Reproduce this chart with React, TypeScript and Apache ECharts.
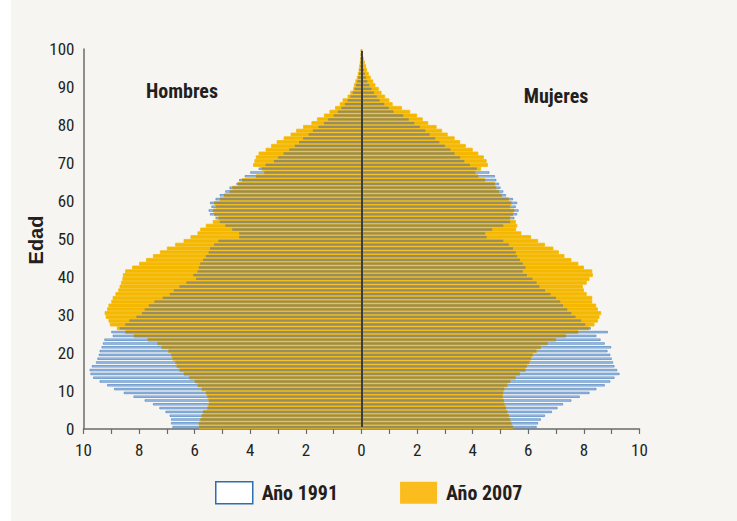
import React, { useEffect, useRef } from 'react';
import * as echarts from 'echarts';

// Ages 0..99 (single-year bands)
const ageLabels: string[] = [
  '0','1','2','3','4','5','6','7','8','9','10','11','12','13','14','15','16','17','18','19',
  '20','21','22','23','24','25','26','27','28','29','30','31','32','33','34','35','36','37','38','39',
  '40','41','42','43','44','45','46','47','48','49','50','51','52','53','54','55','56','57','58','59',
  '60','61','62','63','64','65','66','67','68','69','70','71','72','73','74','75','76','77','78','79',
  '80','81','82','83','84','85','86','87','88','89','90','91','92','93','94','95','96','97','98','99',
];

// Hombres, año 1991 (%)
const men1991: number[] = [
  6.8, 6.85, 6.85, 6.9, 7.05, 7.27, 7.5, 7.8, 8.2, 8.55,
  8.9, 9.15, 9.42, 9.65, 9.75, 9.78, 9.7, 9.55, 9.5, 9.45,
  9.42, 9.35, 9.3, 9.25, 8.95, 9.0, 8.7, 8.5, 8.35, 8.1,
  7.9, 7.8, 7.65, 7.45, 7.15, 6.9, 6.75, 6.55, 6.3, 5.95,
  6.05, 5.9, 5.85, 5.8, 5.7, 5.6, 5.5, 5.45, 5.3, 5.15,
  4.4, 4.4, 4.65, 4.9, 5.1, 5.25, 5.45, 5.5, 5.4, 5.45,
  5.25, 5.1, 4.9, 4.75, 4.5, 4.4, 4.2, 4.0, 3.7, 3.45,
  3.15, 3.0, 2.8, 2.6, 2.4, 2.25, 2.1, 1.9, 1.75, 1.55,
  1.35, 1.2, 1.0, 0.85, 0.72, 0.6, 0.5, 0.4, 0.32, 0.25,
  0.2, 0.15, 0.12, 0.09, 0.07, 0.05, 0.04, 0.03, 0.02, 0.01,
];

// Hombres, año 2007 (%)
const men2007: number[] = [
  5.85, 5.85, 5.8, 5.75, 5.7, 5.55, 5.5, 5.5, 5.55, 5.6,
  5.75, 5.9, 6.0, 6.2, 6.4, 6.55, 6.65, 6.7, 6.8, 6.85,
  6.95, 7.2, 7.35, 7.7, 8.2, 8.5, 8.8, 9.05, 9.1, 9.2,
  9.24, 9.15, 9.1, 9.0, 8.95, 8.85, 8.75, 8.7, 8.65, 8.6,
  8.58, 8.5, 8.25, 8.0, 7.75, 7.5, 7.25, 7.0, 6.7, 6.4,
  6.15, 5.9, 5.8, 5.6, 5.35, 5.15, 5.3, 5.35, 5.25, 5.3,
  5.1, 4.95, 4.75, 4.65, 4.45, 4.3, 3.8, 3.5, 3.6, 3.9,
  3.85, 3.8, 3.7, 3.45, 3.25, 3.05, 2.8, 2.55, 2.35, 2.1,
  1.8, 1.6, 1.35, 1.15, 0.95, 0.78, 0.68, 0.5, 0.4, 0.3,
  0.27, 0.22, 0.17, 0.13, 0.1, 0.08, 0.06, 0.04, 0.03, 0.02,
];

// Mujeres, año 1991 (%)
const women1991: number[] = [
  6.3, 6.35, 6.45, 6.6, 6.85, 7.05, 7.25, 7.55, 7.85, 8.2,
  8.45, 8.75, 8.95, 9.1, 9.28, 9.2, 9.1, 9.05, 9.0, 8.95,
  8.85, 8.98, 8.75, 8.6, 8.45, 8.86, 8.25, 8.05, 7.9, 7.7,
  7.55, 7.4, 7.25, 7.15, 7.0, 6.8, 6.6, 6.4, 6.3, 6.15,
  5.95, 5.8, 5.9, 5.8, 5.7, 5.6, 5.55, 5.45, 5.3, 5.1,
  4.5, 4.45, 4.7, 5.1, 5.35, 5.5, 5.6, 5.65, 5.55, 5.6,
  5.45, 5.2, 5.1, 5.0, 4.95, 4.85, 4.8, 4.6, 4.15, 3.9,
  3.7, 3.55, 3.35, 3.2, 3.0, 2.8, 2.65, 2.45, 2.3, 2.1,
  1.9, 1.7, 1.5, 1.15, 0.98, 0.82, 0.65, 0.55, 0.45, 0.36,
  0.28, 0.21, 0.16, 0.12, 0.09, 0.06, 0.05, 0.03, 0.02, 0.01,
];

// Mujeres, año 2007 (%)
const women2007: number[] = [
  5.45, 5.4, 5.35, 5.3, 5.25, 5.2, 5.15, 5.12, 5.08, 5.1,
  5.14, 5.25, 5.35, 5.55, 5.7, 5.9, 5.95, 6.04, 6.1, 6.16,
  6.3, 6.45, 6.7, 7.0, 7.36, 7.8, 8.2, 8.38, 8.5, 8.56,
  8.62, 8.5, 8.44, 8.3, 8.3, 8.1, 8.0, 7.96, 8.1, 8.2,
  8.32, 8.3, 8.0, 7.8, 7.55, 7.3, 7.1, 6.9, 6.6, 6.35,
  6.1, 5.75, 5.56, 5.6, 5.55, 5.35, 5.45, 5.5, 5.35, 5.4,
  5.3, 5.05, 4.95, 4.85, 4.8, 4.45, 4.2, 4.1, 4.3, 4.55,
  4.5, 4.4, 4.2, 4.0, 3.75, 3.55, 3.35, 3.1, 2.9, 2.7,
  2.4, 2.2, 2.0, 1.75, 1.45, 1.12, 1.0, 0.85, 0.72, 0.62,
  0.5, 0.42, 0.33, 0.26, 0.2, 0.16, 0.12, 0.08, 0.05, 0.03,
];

const FONT = "'Liberation Sans Narrow', 'Arial Narrow', 'Roboto Condensed', 'DejaVu Sans Condensed', 'Liberation Sans', sans-serif";
const TEXT = '#231f20';
const AXIS = '#6b6b6b';
const GOLD = '#f5b800';
const BLUE_FILL = '#a8c6e8';
const BLUE_EDGE = '#4f86c4';
const OLIVE = '#968e62';

export default function App() {
  const ref = useRef<HTMLDivElement>(null);

  useEffect(() => {
    if (!ref.current) return;
    const chart = echarts.init(ref.current, undefined, { renderer: 'svg' });

    const m91 = men1991.map((v) => -v);
    const m07 = men2007.map((v) => -v);
    const ovM = men1991.map((v, i) => -Math.min(v, men2007[i]));
    const ovF = women1991.map((v, i) => Math.min(v, women2007[i]));

    const gap91 = '40%';

    chart.setOption({
      animation: false,
      textStyle: { fontFamily: FONT },
      grid: { left: 83.5, right: 97.5, top: 49, bottom: 92, containLabel: false },
      xAxis: {
        type: 'value',
        min: -10,
        max: 10,
        interval: 2,
        axisLine: { show: true, onZero: false, lineStyle: { color: AXIS, width: 1.5 } },
        axisTick: { show: true, length: 5, lineStyle: { color: AXIS, width: 1.2 } },
        minorTick: { show: true, splitNumber: 2, length: 5, lineStyle: { color: AXIS, width: 1.2 } },
        splitLine: { show: false },
        axisLabel: {
          formatter: (v: number) => String(Math.abs(v)),
          fontSize: 17,
          color: TEXT,
          margin: 12,
          fontFamily: FONT,
        },
      },
      yAxis: [
        { type: 'category', data: ageLabels, show: false },
        { type: 'category', data: ageLabels, show: false },
        {
          type: 'value',
          min: 0,
          max: 100,
          interval: 10,
          position: 'left',
          axisLine: { show: true, onZero: false, lineStyle: { color: AXIS, width: 1.5 } },
          axisTick: { show: false },
          splitLine: { show: false },
          axisLabel: { fontSize: 17, color: TEXT, margin: 9, fontFamily: FONT },
        },
      ],
      legend: {
        left: 215,
        top: 481,
        itemWidth: 37,
        itemHeight: 22,
        itemGap: 62,
        padding: 0,
        selectedMode: false,
        textStyle: { fontSize: 20, color: TEXT, fontFamily: FONT, fontWeight: 'bold', padding: [0, 0, 0, 4] },
        data: [
          { name: 'Año 1991', icon: 'rect', itemStyle: { color: '#ffffff', borderColor: '#2e6eb0', borderWidth: 1.5 } },
          { name: 'Año 2007', icon: 'rect', itemStyle: { color: '#fbbd1e', borderWidth: 0 } },
        ],
      },
      graphic: [
        { type: 'rect', z: -100, shape: { x: 0, y: 0, width: 11, height: 521 }, style: { fill: '#ffffff' } },
        {
          type: 'text', x: 182, y: 91,
          style: { text: 'Hombres', fill: TEXT, font: `bold 20px ${FONT}`, textAlign: 'center', textVerticalAlign: 'middle' },
        },
        {
          type: 'text', x: 556, y: 96,
          style: { text: 'Mujeres', fill: TEXT, font: `bold 20px ${FONT}`, textAlign: 'center', textVerticalAlign: 'middle' },
        },
        {
          type: 'text', x: 36, y: 240, rotation: Math.PI / 2,
          style: { text: 'Edad', fill: TEXT, font: `bold 20px 'Liberation Sans', Arial, sans-serif`, textAlign: 'center', textVerticalAlign: 'middle' },
        },
      ],
      series: [
        {
          name: 'Año 1991', type: 'bar', yAxisIndex: 1, data: m91, z: 1,
          barGap: '-100%', barCategoryGap: gap91,
          itemStyle: { color: BLUE_FILL, borderColor: BLUE_EDGE, borderWidth: 0.7 },
        },
        {
          name: 'Año 1991', type: 'bar', yAxisIndex: 1, data: women1991, z: 1,
          barGap: '-100%', barCategoryGap: gap91,
          itemStyle: { color: BLUE_FILL, borderColor: BLUE_EDGE, borderWidth: 0.7 },
        },
        {
          name: 'Año 2007', type: 'bar', yAxisIndex: 0, data: m07, z: 2,
          barGap: '-100%', barCategoryGap: '0%',
          itemStyle: { color: GOLD, borderColor: GOLD, borderWidth: 0.8 },
        },
        {
          name: 'Año 2007', type: 'bar', yAxisIndex: 0, data: women2007, z: 2,
          barGap: '-100%', barCategoryGap: '0%',
          itemStyle: { color: GOLD, borderColor: GOLD, borderWidth: 0.8 },
        },
        {
          name: 'Común H', type: 'bar', yAxisIndex: 1, data: ovM, z: 3,
          barGap: '-100%', barCategoryGap: gap91,
          itemStyle: { color: OLIVE },
        },
        {
          name: 'Común M', type: 'bar', yAxisIndex: 1, data: ovF, z: 3,
          barGap: '-100%', barCategoryGap: gap91,
          itemStyle: { color: OLIVE },
          markLine: {
            silent: true,
            symbol: 'none',
            label: { show: false },
            lineStyle: { color: '#3d3d3d', width: 2, type: 'solid' },
            data: [[{ coord: [0, '0'] }, { coord: [0, '99'] }]],
          },
        },
      ],
    });

    return () => chart.dispose();
  }, []);

  return (
    <div
      ref={ref}
      style={{ position: 'fixed', left: 0, top: 0, width: 737, height: 521, background: '#f7f5f2' }}
    />
  );
}
